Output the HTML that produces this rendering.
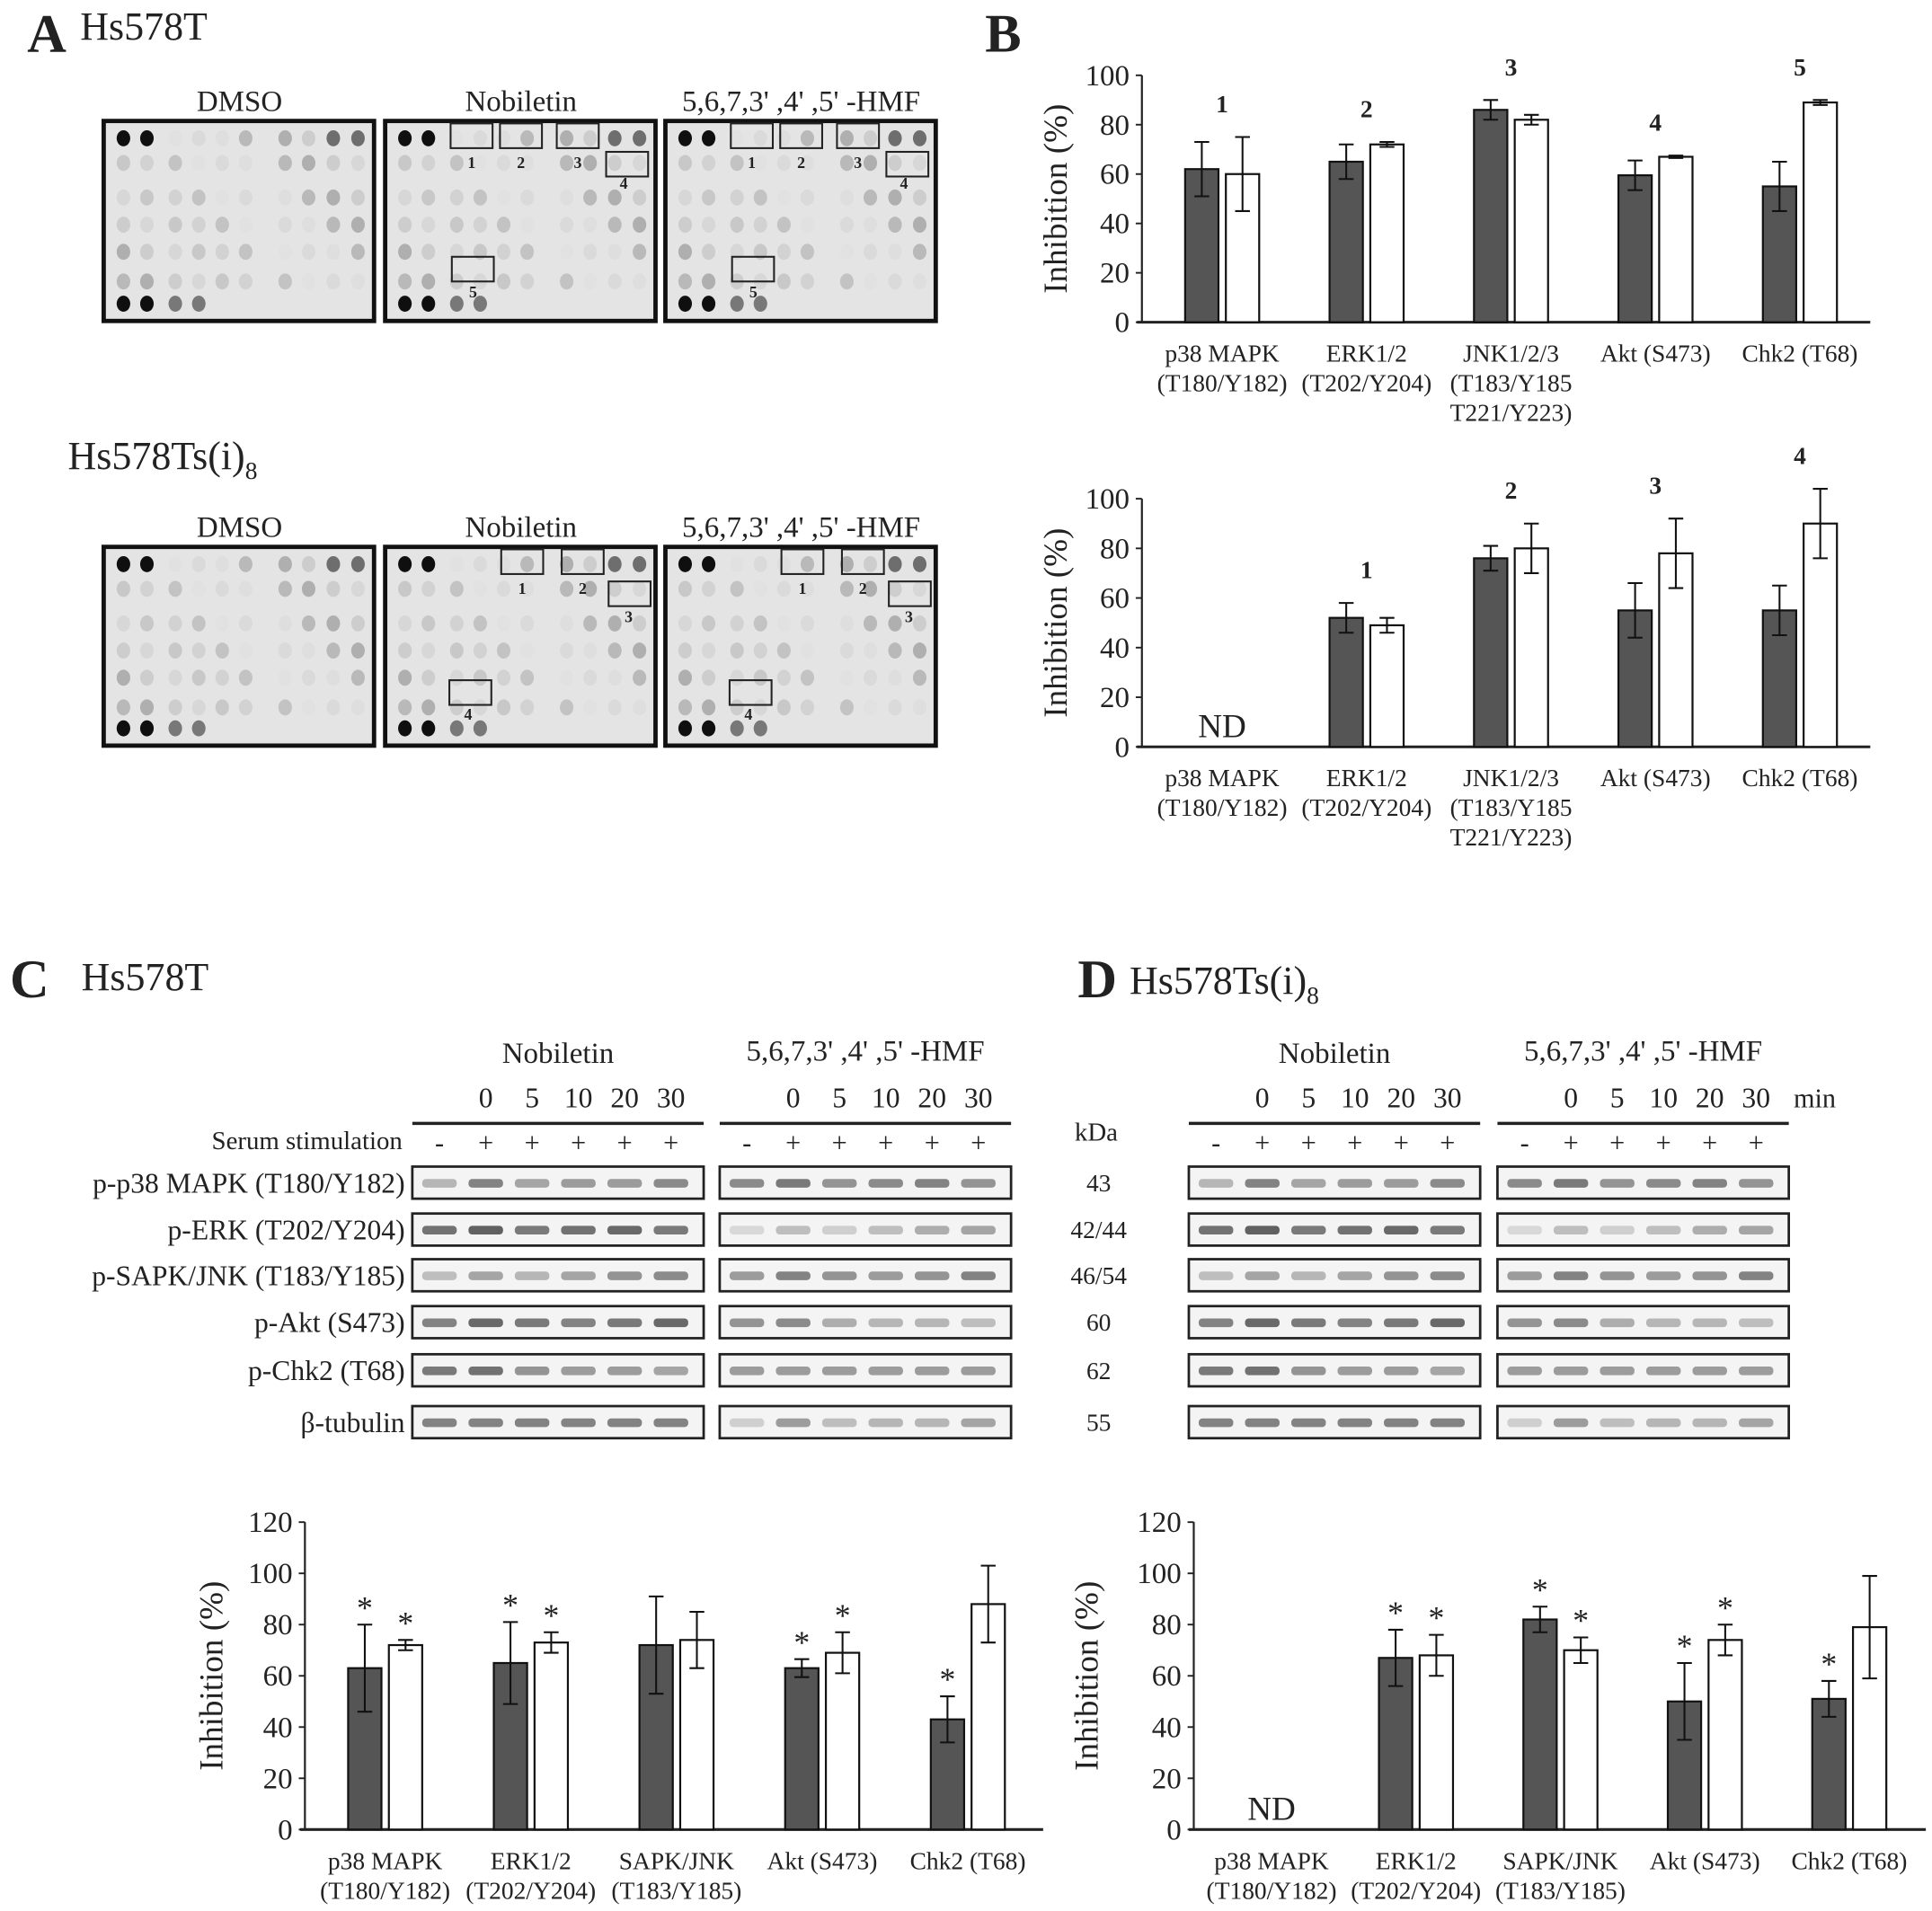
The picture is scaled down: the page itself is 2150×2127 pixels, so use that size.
<!DOCTYPE html>
<html><head><meta charset="utf-8"><style>
html,body{margin:0;padding:0;background:#fff}
svg{display:block}
text{font-family:"Liberation Serif",serif;fill:#222}
</style></head><body>
<svg id="fig" xmlns="http://www.w3.org/2000/svg" width="2150" height="2127" viewBox="0 0 1565 1548" preserveAspectRatio="none">
<g id="root"></g>
</svg>
<script>
// ---------- chart data ----------
const catsB = ["p38 MAPK|(T180/Y182)","ERK1/2|(T202/Y204)","JNK1/2/3|(T183/Y185|T221/Y223)","Akt (S473)","Chk2 (T68)"];
const catsCD = ["p38 MAPK|(T180/Y182)","ERK1/2|(T202/Y204)","SAPK/JNK|(T183/Y185)","Akt (S473)","Chk2 (T68)"];
const b1Dark = [62,65,86,59.5,55];
const b1DarkErr = [11,7,4,6,10];
const b1White = [60,72,82,67,89];
const b1WhiteErr = [15,1,2,0.5,1];
const b1Labels = ["1","2","3","4","5"];
const b2Dark = [null,52,76,55,55];
const b2DarkErr = [0,6,5,11,10];
const b2White = [null,49,80,78,90];
const b2WhiteErr = [0,3,10,14,14];
const b2Labels = ["","1","2","3","4"];
const cDark = [63,65,72,63,43];
const cDarkErr = [17,16,19,3.5,9];
const cWhite = [72,73,74,69,88];
const cWhiteErr = [2,4,11,8,15];
const cStarDark = [1,1,0,1,1];
const cStarWhite = [1,1,0,1,0];
const dDark = [null,67,82,50,51];
const dDarkErr = [0,11,5,15,7];
const dWhite = [null,68,70,74,79];
const dWhiteErr = [0,8,5,6,20];
const dStarDark = [0,1,1,1,1];
const dStarWhite = [0,1,1,1,0];
const ticksB = [0,20,40,60,80,100];
const ticksCD = [0,20,40,60,80,100,120];

const NS="http://www.w3.org/2000/svg";
const root=document.getElementById('root');
function el(tag,attrs,parent,txt){const e=document.createElementNS(NS,tag);for(const k in attrs)e.setAttribute(k,attrs[k]);if(txt!==undefined)e.textContent=txt;(parent||root).appendChild(e);return e;}

function chart(name,cfg){
  const g=el('g',{},root);
  
  
  const y=v=>cfg.y0-(v/cfg.max)*(cfg.y0-cfg.yTop);
  const ax=el('line',{x1:cfg.x0,y1:cfg.yTop,x2:cfg.x0,y2:cfg.y0,stroke:'#222','stroke-width':1.6},g);
  
  
  const xa=el('line',{x1:cfg.x0-4,y1:cfg.y0,x2:cfg.x1,y2:cfg.y0,stroke:'#222','stroke-width':2.2},g);
  
  
  cfg.ticks.forEach(t=>{
    el('line',{x1:cfg.x0-5,y1:y(t),x2:cfg.x0,y2:y(t),stroke:'#222','stroke-width':1.4},g);
    const tl=el('text',{x:cfg.x0-10,y:y(t)+8,'text-anchor':'end','font-size':24},g,String(t));
    
    
  });
  const yt=el('text',{x:cfg.titleX,y:(cfg.y0+cfg.yTop)/2,'text-anchor':'middle','font-size':27,transform:`rotate(-90 ${cfg.titleX} ${(cfg.y0+cfg.yTop)/2})`},g,'Inhibition (%)');
  
  
  const n=cfg.cats.length;
  for(let i=0;i<n;i++){
    const cx=cfg.c0+cfg.step*i;
    const lines=cfg.cats[i].split('|');
    lines.forEach((l,j)=>{
      const t=el('text',{x:cx,y:cfg.y0+32+j*24,'text-anchor':'middle','font-size':20},g,l);
      
      
    });
    const bw=27;
    [[cfg.dark,cfg.darkErr,cx-bw-3,'#555'],[cfg.white,cfg.whiteErr,cx+3,'#fff']].forEach(([vals,errs,bx,fill],k)=>{
      const v=vals[i]; if(v===null)return;
      const r=el('rect',{x:bx,y:y(v),width:bw,height:cfg.y0-y(v),fill:fill,stroke:'#111','stroke-width':1.6},g);
      
      
      const e=errs[i], ex=bx+bw/2;
      const eb=el('path',{d:`M${ex},${y(v+e)}V${y(v-e)}M${ex-6},${y(v+e)}H${ex+6}M${ex-6},${y(v-e)}H${ex+6}`,stroke:'#111','stroke-width':1.5,fill:'none'},g);
      
      
      if(cfg.stars){
        const s=(k===0?cfg.stars[0]:cfg.stars[1])[i];
        if(s){const st=el('text',{x:ex,y:y(v+e)-5,'text-anchor':'middle','font-size':26},g,'*');
          
          }
      }
    });
    if(cfg.labels&&cfg.labels[i]){
      const top=Math.max((cfg.dark[i]||0)+cfg.darkErr[i],(cfg.white[i]||0)+cfg.whiteErr[i]);
      const lt=el('text',{x:cx,y:y(top)-20,'text-anchor':'middle','font-size':20,'font-weight':'bold'},g,cfg.labels[i]);
      
      
    }
    if(cfg.dark[i]===null){
      const nd=el('text',{x:cx,y:cfg.y0-8,'text-anchor':'middle','font-size':27},g,'ND');
      
      
    }
  }
}
chart('chart-b-hs578t',{x0:925,x1:1515,c0:990,step:117,y0:261,yTop:61,max:100,ticks:ticksB,titleX:864,cats:catsB,dark:b1Dark,darkErr:b1DarkErr,white:b1White,whiteErr:b1WhiteErr,labels:b1Labels});
chart('chart-b-hs578tsi8',{x0:925,x1:1515,c0:990,step:117,y0:605,yTop:404,max:100,ticks:ticksB,titleX:864,cats:catsB,dark:b2Dark,darkErr:b2DarkErr,white:b2White,whiteErr:b2WhiteErr,labels:b2Labels});
chart('chart-c',{x0:247,x1:845,c0:312,step:118,y0:1482,yTop:1233,max:120,ticks:ticksCD,titleX:180,cats:catsCD,dark:cDark,darkErr:cDarkErr,white:cWhite,whiteErr:cWhiteErr,stars:[cStarDark,cStarWhite]});
chart('chart-d',{x0:967,x1:1560,c0:1030,step:117,y0:1482,yTop:1233,max:120,ticks:ticksCD,titleX:889,cats:catsCD,dark:dDark,darkErr:dDarkErr,white:dWhite,whiteErr:dWhiteErr,stars:[dStarDark,dStarWhite]});

// ---------- panel labels ----------
function txt(name,x,y,s,size,extra){const t=el('text',Object.assign({x:x,y:y,'font-size':size},extra||{}),root,s);return t;}
function subTitle(name,x,y,s){const t=txt(name,x,y,s,32);el('tspan',{'font-size':20,dy:8},t,'8');return t;}
txt('panel-label-a',22,42,'A',44,{'font-weight':'bold'});
txt('title-hs578t-a',65,32,'Hs578T',32);
txt('panel-label-b',798,42,'B',44,{'font-weight':'bold'});
subTitle('title-hs578tsi8-a',55,380,'Hs578Ts(i)');
txt('panel-label-c',8,808,'C',44,{'font-weight':'bold'});
txt('title-hs578t-c',66,802,'Hs578T',32);
txt('panel-label-d',873,808,'D',44,{'font-weight':'bold'});
subTitle('title-hs578tsi8-d',915,805,'Hs578Ts(i)');

// ---------- arrays (panel A) ----------
const boxesX=[84,312,539];
const titles=['DMSO','Nobiletin',"5,6,7,3' ,4' ,5' -HMF"];
const colsX=[16,35,58,77,96,115,147,166,186,206];
const rowsY=[14,34,62,84,106,130,150];
function arrayBox(bx,by,h,lvl,name){
  const r=el('rect',{x:bx,y:by,width:219,height:h,fill:'#e4e4e4',stroke:'#111','stroke-width':3.5});
  
  
  for(let ri=0;ri<rowsY.length;ri++)for(let ci=0;ci<colsX.length;ci++){
    let g=lvl[(ri*7+ci*3)%lvl.length];
    if((ri===0||ri===rowsY.length-1)&&ci<2)g=15;
    if(ri===0&&ci>=8)g=110;
    if(ri===rowsY.length-1&&ci>=4)continue;
    if(ri===rowsY.length-1&&ci<4&&ci>=2)g=120;
    const yy=ri===rowsY.length-1?h-14:rowsY[ri];
    el('ellipse',{cx:bx+colsX[ci],cy:by+yy,rx:5.5,ry:6.5,fill:`rgb(${g},${g},${g})`});
  }
}
const lv1=[210,205,222,195,215,185,225,200,175,218];
[98,443].forEach((by,k)=>{
  boxesX.forEach((bx,i)=>{
    txt('array-title',bx+110,by-8,titles[i],24,{'text-anchor':'middle'});
    arrayBox(bx,by,k===0?162:161,lv1,'cytokine-array-membrane');
  });
});
[[312,98],[539,98]].forEach(([bx,by])=>{
  [[53,2,'1'],[93,2,'2'],[139,2,'3']].forEach(([dx,dy,l])=>{el('rect',{x:bx+dx,y:by+dy,width:34,height:20,fill:'none',stroke:'#222','stroke-width':1.5});txt('spot-box-label',bx+dx+17,by+38,l,13,{'text-anchor':'middle','font-weight':'bold'});});
  el('rect',{x:bx+179,y:by+25,width:34,height:20,fill:'none',stroke:'#222','stroke-width':1.5});txt('spot-box-label',bx+190,by+55,'4',13,{'font-weight':'bold'});
  el('rect',{x:bx+54,y:by+110,width:34,height:20,fill:'none',stroke:'#222','stroke-width':1.5});txt('spot-box-label',bx+68,by+143,'5',13,{'font-weight':'bold'});
});
[[312,443],[539,443]].forEach(([bx,by])=>{
  [[94,2,'1'],[143,2,'2']].forEach(([dx,dy,l])=>{el('rect',{x:bx+dx,y:by+dy,width:34,height:20,fill:'none',stroke:'#222','stroke-width':1.5});txt('spot-box-label',bx+dx+17,by+38,l,13,{'text-anchor':'middle','font-weight':'bold'});});
  el('rect',{x:bx+181,y:by+28,width:34,height:20,fill:'none',stroke:'#222','stroke-width':1.5});txt('spot-box-label',bx+194,by+61,'3',13,{'font-weight':'bold'});
  el('rect',{x:bx+52,y:by+108,width:34,height:20,fill:'none',stroke:'#222','stroke-width':1.5});txt('spot-box-label',bx+64,by+140,'4',13,{'font-weight':'bold'});
});

// ---------- western blots ----------
const rowNames=['p-p38 MAPK (T180/Y182)','p-ERK (T202/Y204)','p-SAPK/JNK (T183/Y185)','p-Akt  (S473)','p-Chk2  (T68)','β-tubulin'];
const kda=['43','42/44','46/54','60','62','55'];
const rowTop=[945,983,1020,1058,1097,1139];
const times=['0','5','10','20','30'];
const bandLv=[[170,110,150,140,140,120],[90,70,100,90,80,100],[180,150,170,150,130,120],[110,80,100,110,100,80],[100,90,130,140,140,150],[110,110,110,110,110,110]];
function blot(x,yTop,intens,name){
  const r=el('rect',{x:x,y:yTop,width:236,height:26,fill:'#f4f4f4',stroke:'#222','stroke-width':2});
  
  
  for(let l=0;l<6;l++){const g=intens[l];el('rect',{x:x+8+l*37.5,y:yTop+10,width:28,height:7,rx:3,fill:`rgb(${g},${g},${g})`,opacity:0.85});}
}
function blotSet(lx,rx){
  txt('treatment-label',lx+118,861,'Nobiletin',24,{'text-anchor':'middle'});
  txt('treatment-label',rx+118,859,"5,6,7,3' ,4' ,5' -HMF",24,{'text-anchor':'middle'});
  [lx,rx].forEach(bx=>{
    el('line',{x1:bx,y1:910,x2:bx+236,y2:910,stroke:'#222','stroke-width':2.5});
    for(let l=0;l<6;l++){
      const cx=bx+22+l*37.5;
      if(l>0)txt('time-label',cx,897,times[l-1],23,{'text-anchor':'middle'});
      txt('serum-sign',cx,933,l===0?'-':'+',22,{'text-anchor':'middle'});
    }
  });
  rowTop.forEach((t,i)=>{
    blot(lx,t,bandLv[i],'blot-nobiletin');
    blot(rx,t,bandLv[(i+1)%6].map(v=>Math.min(220,v+30)),'blot-hmf');
  });
}
blotSet(334,583);
txt('serum-label',326,931,'Serum stimulation',21,{'text-anchor':'end'});
rowNames.forEach((n,i)=>txt('protein-label',328,rowTop[i]+21,n,23,{'text-anchor':'end'}));
blotSet(963,1213);
txt('min-label',1470,897,'min',22,{'text-anchor':'middle'});
txt('kda-label',888,924,'kDa',21,{'text-anchor':'middle'});
kda.forEach((k,i)=>txt('kda-value',890,rowTop[i]+20,k,20,{'text-anchor':'middle'}));
</script>
</body></html>
